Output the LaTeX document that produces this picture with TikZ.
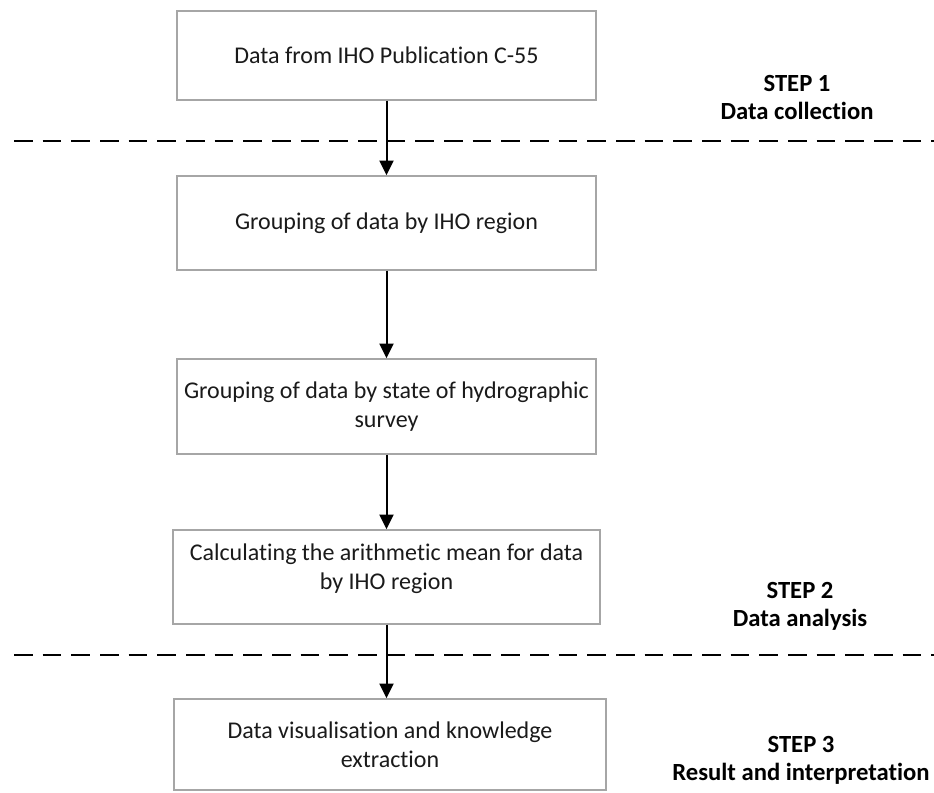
\documentclass[tikz,border=0pt]{standalone}
\usepackage{fontspec}
\setmainfont{Carlito}[Ligatures=NoCommon]
\usetikzlibrary{arrows.meta}
\definecolor{boxgray}{HTML}{A6A6A6}
\definecolor{textgray}{HTML}{1A1A1A}
\begin{document}
\begin{tikzpicture}[x=0.75pt,y=-0.75pt,
  box/.style={draw=boxgray, line width=1.1pt, fill=white, align=center, inner sep=0pt,
    font=\fontsize{18}{22}\selectfont, text=textgray},
  flow/.style={line width=1.5pt, -{Triangle[width=10.5pt,length=11pt]}},
  sepline/.style={line width=2pt, dash pattern=on 14pt off 7.5pt},
  steplbl/.style={font=\fontsize{18.5}{21}\selectfont\bfseries, align=center, text=black}]
\useasboundingbox (0,0) rectangle (934,792);
\fill[white] (0,0) rectangle (934,792);

\node[box, minimum width=314.25pt, minimum height=66.75pt] (b1) at (386.5,55.5) {Data from IHO Publication C-55};
\node[box, minimum width=314.25pt, minimum height=70.5pt] (b2) at (386.5,223) {Grouping of data by IHO region};
\node[box, minimum width=314.25pt, minimum height=71.25pt] (b3) at (386.5,406.5) {Grouping of data by state of hydrographic\\survey};
\node[box, minimum width=320.25pt, minimum height=70.5pt] (b4) at (386.5,577) {Calculating the arithmetic mean for data\\by IHO region\\[-6pt]\mbox{}};
\node[box, minimum width=324pt, minimum height=68.25pt] (b5) at (390,744.5) {Data visualisation and knowledge\\extraction};

\coordinate (d1l) at (14,141);
\coordinate (d1r) at (934,141);
\coordinate (d2l) at (14,655);
\coordinate (d2r) at (934,655);
\draw[sepline] (d1l) -- (d1r);
\draw[sepline] (d2l) -- (d2r);

\draw[flow] (b1) -- (b2);
\draw[flow] (b2) -- (b3);
\draw[flow] (b3) -- (b4);
\draw[flow] (b4.south) -- (b4.south |- b5.north);

\node[steplbl] (s1) at (797,98) {STEP 1\\Data collection};
\node[steplbl] (s2) at (800,606) {STEP 2\\Data analysis};
\node[steplbl] (s3) at (801,760) {STEP 3\\Result and interpretation};
\end{tikzpicture}
\end{document}
